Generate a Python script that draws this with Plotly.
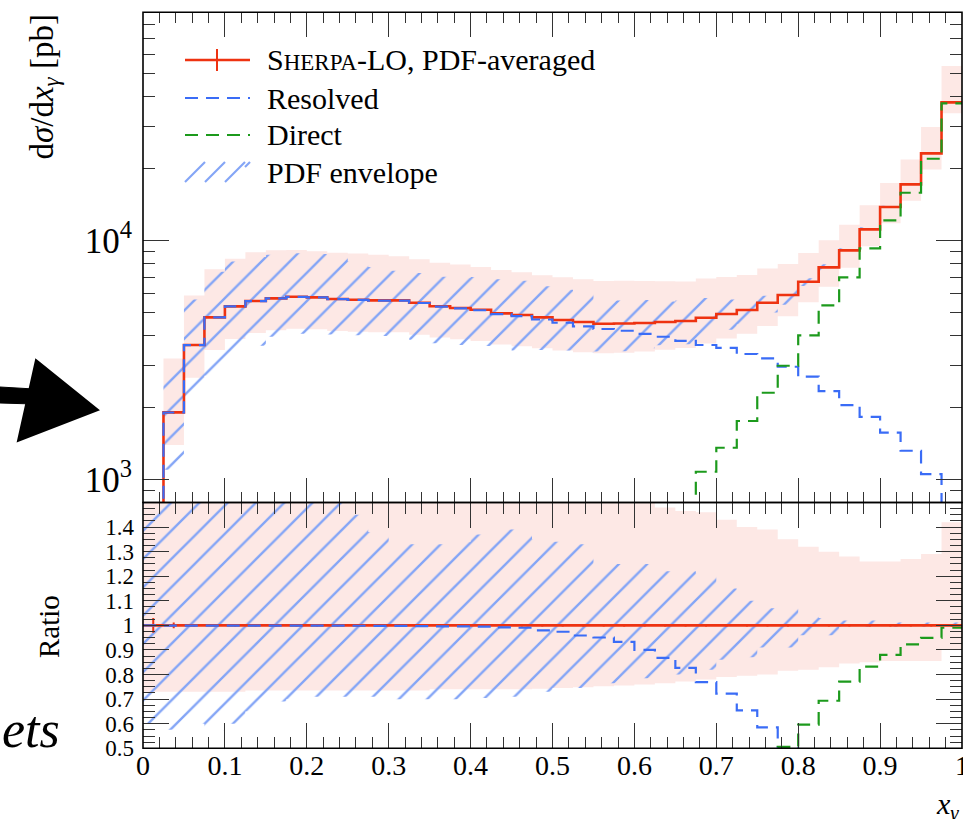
import math
import plotly.graph_objects as go

# ---------------- data (40 bins of x_gamma, width 0.025) ----------------
bin_edges = [round(0.025 * i, 3) for i in range(41)]

# SHERPA-LO, PDF-averaged  [pb]
main = [450, 1906, 3648, 4762, 5295, 5572, 5720, 5808, 5775, 5682,
        5644, 5610, 5610, 5483, 5301, 5209, 5124, 4950, 4869, 4762,
        4640, 4552, 4477, 4486, 4508, 4552, 4596, 4744, 4916, 5110,
        5483, 5904, 6713, 7709, 9080, 11120, 13780, 17150, 23120, 37790]

# Resolved component [pb]
resolved = [450, 1904, 3644, 4757, 5290, 5566, 5714, 5802, 5769, 5676,
            5636, 5600, 5598, 5468, 5282, 5188, 5100, 4910, 4822, 4665,
            4520, 4365, 4257, 4186, 4060, 3951, 3800, 3648, 3552, 3345,
            3208, 2959, 2688, 2341, 2046, 1827, 1567, 1317, 1052, 650]

# Direct component [pb] (not visible below x ~ 0.65)
direct = [None] * 26 + [700, 1076, 1356, 1754, 2303, 2988, 4005, 5346,
                        7002, 9258, 12126, 15820, 21950, 37430]

# relative statistical error of the main prediction
main_rel_err = [0.03, 0.012] + [0.004] * 38

# scale band (pink) relative to main
scale_hi = [1.65, 1.68, 1.61, 1.59, 1.58, 1.60, 1.59, 1.57, 1.56, 1.56,
            1.56, 1.55, 1.53, 1.52, 1.52, 1.52, 1.51, 1.52, 1.51, 1.50,
            1.51, 1.51, 1.51, 1.51, 1.50, 1.48, 1.465, 1.46, 1.43, 1.40,
            1.39, 1.35, 1.32, 1.30, 1.28, 1.26, 1.26, 1.27, 1.29, 1.42]
scale_lo = [0.73, 0.73, 0.73, 0.73, 0.73, 0.735, 0.735, 0.735, 0.735, 0.735,
            0.735, 0.735, 0.735, 0.735, 0.74, 0.74, 0.74, 0.74, 0.74, 0.742,
            0.745, 0.748, 0.752, 0.755, 0.76, 0.765, 0.772, 0.78, 0.79, 0.795,
            0.80, 0.815, 0.82, 0.83, 0.845, 0.85, 0.855, 0.855, 0.855, 0.90]

# PDF envelope (hatched) relative to main
pdf_hi = [1.60, 1.58, 1.55, 1.55, 1.54, 1.53, 1.52, 1.52, 1.52, 1.51,
          1.45, 1.38, 1.33, 1.33, 1.33, 1.34, 1.37, 1.39, 1.39, 1.35,
          1.34, 1.33, 1.25, 1.25, 1.25, 1.22, 1.22, 1.21, 1.15, 1.10,
          1.07, 1.07, 1.035, 1.03, 1.02, 1.02, 1.012, 1.012, 1.012, 1.012]
pdf_lo = [0.60, 0.575, 0.60, 0.57, 0.60, 0.65, 0.69, 0.70, 0.71, 0.71,
          0.71, 0.71, 0.70, 0.70, 0.70, 0.70, 0.705, 0.71, 0.71, 0.73,
          0.745, 0.745, 0.765, 0.765, 0.785, 0.80, 0.80, 0.82, 0.86, 0.87,
          0.91, 0.91, 0.96, 0.96, 0.995, 0.995, 0.995, 0.995, 0.995, 0.995]

x_tick_vals = [0, 0.1, 0.2, 0.3, 0.4, 0.5, 0.6, 0.7, 0.8, 0.9, 1.0]
x_tick_text = ["0", "0.1", "0.2", "0.3", "0.4", "0.5", "0.6", "0.7", "0.8", "0.9", "1"]
r_tick_vals = [0.5, 0.6, 0.7, 0.8, 0.9, 1.0, 1.1, 1.2, 1.3, 1.4]
r_tick_text = ["0.5", "0.6", "0.7", "0.8", "0.9", "1", "1.1", "1.2", "1.3", "1.4"]

legend_labels = ['S<span style="font-size:23px">HERPA</span>-LO, PDF-averaged',
                 "Resolved", "Direct", "PDF envelope"]

# ---------------- styling ----------------
W, H = 963, 819
FONT = "Liberation Serif"
RED = "#ee3311"
BLUE = "#3a6cf6"
GREEN = "#1c9a1c"
PINK = "#fde8e5"
HATCH = "#84a5f6"
DASH = "13px,8px"
TICKC = "#333"


def px(x):
    return x / W


def py(y):
    return 1 - y / H


def step(v):
    return list(v) + [v[-1]]


def mul(a, b):
    return [None if (p is None or q is None) else p * q for p, q in zip(a, b)]


def div(a, b):
    return [None if (p is None or q is None) else p / q for p, q in zip(a, b)]


centers = [(bin_edges[i] + bin_edges[i + 1]) / 2 for i in range(40)]
ones = [1.0] * 40

fig = go.Figure()


def add_panel(xa, ya, m, res, dirc, s_lo, s_hi, p_lo, p_hi, err):
    common = dict(xaxis=xa, yaxis=ya, showlegend=False, hoverinfo="skip",
                  line_shape="hv")
    fig.add_trace(go.Scatter(x=bin_edges, y=step(s_lo), mode="lines",
                             line=dict(width=0, color=PINK), **common))
    fig.add_trace(go.Scatter(x=bin_edges, y=step(s_hi), mode="lines",
                             line=dict(width=0, color=PINK), fill="tonexty",
                             fillcolor=PINK, **common))
    fig.add_trace(go.Scatter(x=bin_edges, y=step(p_lo), mode="lines",
                             line=dict(width=0, color="rgba(0,0,0,0)"), **common))
    fig.add_trace(go.Scatter(x=bin_edges, y=step(p_hi), mode="lines",
                             line=dict(width=0, color="rgba(0,0,0,0)"),
                             fill="tonexty", fillcolor="rgba(0,0,0,0)",
                             fillpattern=dict(shape="/", fgcolor=HATCH,
                                              bgcolor="rgba(0,0,0,0)",
                                              size=20, solidity=0.12),
                             **common))
    fig.add_trace(go.Scatter(x=bin_edges, y=step(m), mode="lines",
                             line=dict(width=2.6, color=RED), **common))
    fig.add_trace(go.Scatter(x=centers, y=m, mode="markers",
                             marker=dict(size=1, color=RED, opacity=0),
                             error_y=dict(type="data", array=err, color=RED,
                                          thickness=2, width=0),
                             xaxis=xa, yaxis=ya, showlegend=False,
                             hoverinfo="skip"))
    fig.add_trace(go.Scatter(x=bin_edges, y=step(res), mode="lines",
                             line=dict(width=2.2, color=BLUE, dash=DASH),
                             connectgaps=False, **common))
    fig.add_trace(go.Scatter(x=bin_edges, y=step(dirc), mode="lines",
                             line=dict(width=2.2, color=GREEN, dash=DASH),
                             connectgaps=False, **common))


# top panel (absolute)
add_panel("x", "y", main, resolved, direct,
          mul(scale_lo, main), mul(scale_hi, main),
          mul(pdf_lo, main), mul(pdf_hi, main),
          mul(main_rel_err, main))
# ratio panel
add_panel("x2", "y2", ones, div(resolved, main), div(direct, main),
          scale_lo, scale_hi, pdf_lo, pdf_hi, main_rel_err)

tickfont = dict(family=FONT, size=28, color="black")
axis_common = dict(showline=False, mirror="ticks", ticks="inside",
                   tickcolor=TICKC, tickwidth=1.3, showgrid=False,
                   zeroline=False, automargin=False, tickfont=tickfont,
                   ticklabeloverflow="allow")
minor_common = dict(tickcolor=TICKC, tickwidth=1.2, ticks="inside",
                    showgrid=False)

X0, X1 = 143, 962
Y_TOP, Y_MID, Y_BOT = 12.3, 502.5, 748.3
x_dom = [px(X0), px(X1)]
top_dom = [py(Y_MID), py(Y_TOP)]
bot_dom = [py(Y_BOT), py(Y_MID)]

fig.update_layout(
    width=W, height=H,
    margin=dict(l=0, r=0, t=0, b=0),
    template="none",
    paper_bgcolor="white", plot_bgcolor="white",
    font=dict(family=FONT, size=28, color="black"),
    showlegend=False,
    xaxis=dict(domain=x_dom, range=[0, 1], anchor="y",
               tickvals=x_tick_vals, showticklabels=False, ticklen=25,
               minor=dict(dtick=0.02, tick0=0, ticklen=11, **minor_common),
               **axis_common),
    yaxis=dict(domain=top_dom, type="log",
               range=[math.log10(800), math.log10(90000)], anchor="x",
               dtick=1, exponentformat="power", ticklen=26,
               ticklabelstandoff=10,
               minor=dict(dtick="D1", ticklen=12, **minor_common),
               **axis_common),
    xaxis2=dict(domain=x_dom, range=[0, 1], anchor="y2",
                tickvals=x_tick_vals, ticktext=x_tick_text, ticklen=25,
                ticklabelstandoff=-2,
                minor=dict(dtick=0.02, tick0=0, ticklen=11, **minor_common),
                **axis_common),
    yaxis2=dict(domain=bot_dom, range=[0.5, 1.5], anchor="x2",
                tickvals=r_tick_vals, ticktext=r_tick_text, ticklen=26,
                ticklabelstandoff=8,
                minor=dict(dtick=0.025, tick0=0.5, ticklen=12, **minor_common),
                **axis_common),
)
fig.update_yaxes(tickfont=dict(family=FONT, size=23, color="black"),
                 selector=dict(anchor="x2"))

shapes = []
annotations = []
# panel frames (drawn once, above the data)
for y_a, y_b in ((Y_TOP, Y_MID), (Y_MID, Y_BOT)):
    shapes.append(dict(type="rect", xref="paper", yref="paper", layer="above",
                       x0=px(X0), x1=px(X1), y0=py(y_b), y1=py(y_a),
                       line=dict(color="black", width=1.6),
                       fillcolor="rgba(0,0,0,0)"))

# legend
rows = [60, 98, 135, 172]
lx0, lx1, ltx = 185, 250, 267
shapes.append(dict(type="line", xref="paper", yref="paper",
                   x0=px(lx0), x1=px(lx1), y0=py(rows[0]), y1=py(rows[0]),
                   line=dict(color=RED, width=2.6)))
shapes.append(dict(type="line", xref="paper", yref="paper",
                   x0=px(217), x1=px(217), y0=py(49), y1=py(71),
                   line=dict(color=RED, width=2)))
shapes.append(dict(type="line", xref="paper", yref="paper",
                   x0=px(lx0), x1=px(lx1), y0=py(rows[1]), y1=py(rows[1]),
                   line=dict(color=BLUE, width=2.2, dash=DASH)))
shapes.append(dict(type="line", xref="paper", yref="paper",
                   x0=px(lx0), x1=px(lx1), y0=py(rows[2]), y1=py(rows[2]),
                   line=dict(color=GREEN, width=2.2, dash=DASH)))
for hx in (185, 205, 225):
    shapes.append(dict(type="line", xref="paper", yref="paper",
                       x0=px(hx), x1=px(hx + 20), y0=py(182), y1=py(162),
                       line=dict(color=HATCH, width=2.2)))
shapes.append(dict(type="line", xref="paper", yref="paper",
                   x0=px(245), x1=px(250), y0=py(167), y1=py(162),
                   line=dict(color=HATCH, width=2.2)))
for lab, ry in zip(legend_labels, rows):
    annotations.append(dict(text=lab, xref="paper", yref="paper",
                            x=px(ltx - 2), y=py(ry), xanchor="left",
                            yanchor="middle", showarrow=False,
                            font=dict(family=FONT, size=30, color="black")))

# axis titles
annotations.append(dict(text="d<i>σ</i>/d<i>x</i><sub><i>γ</i></sub> [pb]",
                        xref="paper", yref="paper", x=px(44), y=py(13),
                        xanchor="center", yanchor="top", textangle=-90,
                        showarrow=False,
                        font=dict(family=FONT, size=33, color="black")))
annotations.append(dict(text="Ratio", xref="paper", yref="paper",
                        x=px(49), y=py(627), xanchor="center",
                        yanchor="middle", textangle=-90, showarrow=False,
                        font=dict(family=FONT, size=29, color="black")))
annotations.append(dict(text="<i>x</i><sub><i>γ</i></sub>", xref="paper",
                        yref="paper", x=px(961), y=py(785), xanchor="right",
                        yanchor="top", showarrow=False,
                        font=dict(family=FONT, size=30, color="black")))
# slide remnants on the left
annotations.append(dict(text="<i>ets</i>", xref="paper", yref="paper",
                        x=px(0), y=py(729), xanchor="left", yanchor="middle",
                        showarrow=False,
                        font=dict(family=FONT, size=52, color="black")))
shapes.append(dict(type="path", xref="paper", yref="paper",
                   path=(f"M {px(0)},{py(387)} L {px(34)},{py(389)} "
                         f"L {px(34)},{py(404)} L {px(0)},{py(403)} Z"),
                   fillcolor="black", line=dict(color="black", width=1)))
shapes.append(dict(type="path", xref="paper", yref="paper",
                   path=(f"M {px(36)},{py(360)} L {px(98)},{py(410)} "
                         f"L {px(18)},{py(441)} Z"),
                   fillcolor="black", line=dict(color="black", width=2)))

fig.update_layout(shapes=shapes, annotations=annotations)
fig.write_html("out.html",
               config={"displayModeBar": False},
               post_script="document.body.style.margin='0px';"
                           "document.body.style.overflow='hidden';")
